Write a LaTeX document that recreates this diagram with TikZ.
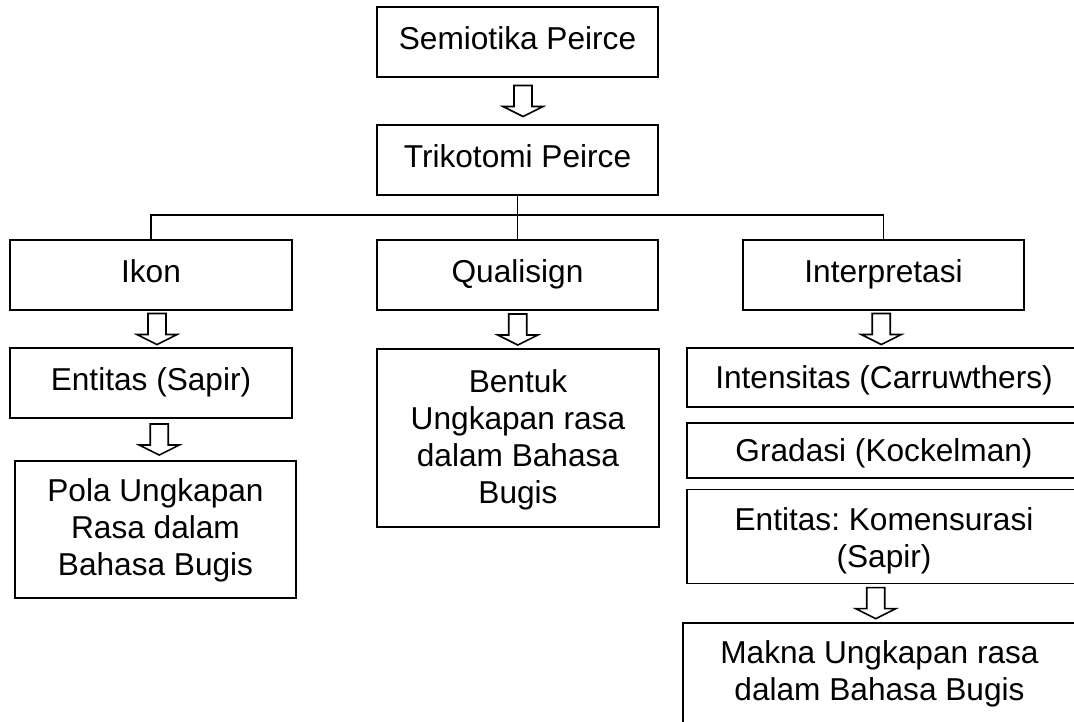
\documentclass[tikz,border=0pt]{standalone}
\usepackage{fontspec}
\setmainfont{Liberation Sans}
\usepackage{tikz}
\usetikzlibrary{calc}
\frenchspacing

\tikzset{
  box/.style={draw, line width=1pt, align=center, inner sep=0pt,
    minimum width=5.62cm, minimum height=1.4cm,
    font=\fontsize{18}{21}\selectfont,
    execute at begin node=\strut},
  widebox/.style={box, minimum width=7.88cm},
  blockarr/.style={draw, line width=0.9pt, fill=white},
  link/.style={line width=1pt},
}

\newcommand{\downblock}[3]{%
  \draw[blockarr, shift={($(#1.south)!0.5!(#2.north)+(#3,0)$)}]
    (-0.18,0.31) -- (-0.18,-0.11) -- (-0.4,-0.11) -- (0,-0.31)
    -- (0.4,-0.11) -- (0.18,-0.11) -- (0.18,0.31) -- cycle;}

\begin{document}
\begin{tikzpicture}

        \useasboundingbox (0,0) rectangle (21.48,-14.42);
        \fill[white] (0,0) rectangle (21.48,-14.42);
        \clip (0,0) rectangle (21.48,-14.42);

        \node[box] (semio) at (10.35,-0.84) {Semiotika Peirce};
        \node[box] (triko) at (10.35,-3.2) {Trikotomi Peirce};

        \node[box, minimum width=5.64cm] (ikon) at (3.02,-5.5) {Ikon};
        \node[box] (quali) at (10.35,-5.5) {Qualisign};
        \node[box] (interp) at (17.67,-5.5) {Interpretasi};

        \node[box, minimum width=5.64cm] (sapir) at (3.02,-7.66) {Entitas (Sapir)};
        \node[box, text height=2.28cm, text depth=0.46cm] (pola) at (3.11,-10.59) {Pola Ungkapan\\Rasa dalam\\Bahasa Bugis};

        \node[box, minimum width=5.64cm, text height=3.08cm, text depth=0.48cm] (bentuk) at (10.36,-8.76) {Bentuk\\Ungkapan rasa\\dalam Bahasa\\Bugis};

        \node[widebox, minimum height=0pt, text height=0.8cm, text depth=0.38cm] (intens) at (17.68,-7.55) {Intensitas (Carruwthers)};
        \node[widebox, minimum height=0pt, text height=0.76cm, text depth=0.34cm] (gradasi) at (17.68,-9.01) {Gradasi (Kockelman)};
        \node[widebox, minimum height=0pt, text height=1.56cm, text depth=0.32cm] (komens) at (17.68,-10.73) {Entitas: Komensurasi\\(Sapir)};
        \node[widebox, minimum width=7.86cm, minimum height=0pt, anchor=north,
              text height=1.56cm, text depth=0.94cm] (makna) at (17.59,-12.44) {Makna Ungkapan rasa\\dalam Bahasa Bugis};

        \draw[link] (triko.south) -- (quali.north);
        \draw[link] (ikon.north) -- ++(0,0.48) -| (interp.north);

        \downblock{semio}{triko}{0.11}
        \downblock{ikon}{sapir}{0.12}
        \downblock{sapir}{pola}{0.12}
        \downblock{quali}{bentuk}{0}
        \downblock{interp}{intens}{-0.05}
        \downblock{komens}{makna}{-0.12}

    \end{tikzpicture}
\end{document}
